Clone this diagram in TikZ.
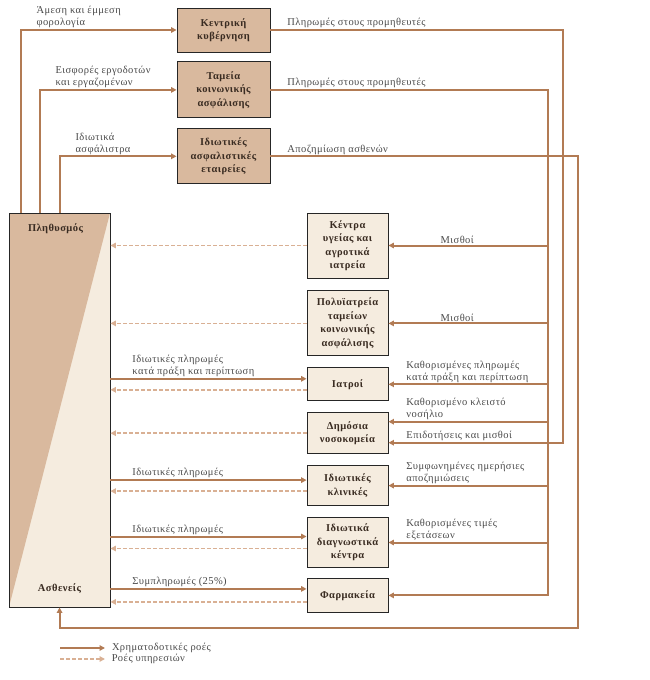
\documentclass[tikz,border=0pt]{standalone}
\usepackage{fontspec}
\setmainfont{Liberation Serif}[LetterSpace=4]
\usetikzlibrary{
  arrows.meta,
  positioning,  % below=of
}
\definecolor{flow}{HTML}{B27B54}
\definecolor{servflow}{HTML}{D9B094}
\definecolor{darkfill}{HTML}{D9B99E}
\definecolor{lightfill}{HTML}{F5ECDF}
\definecolor{boxtext}{HTML}{3A2C22}
\definecolor{lbltext}{HTML}{4A4A4A}
\tikzset{
  font=\fontsize{10.5}{12}\selectfont,
  money/.style={
    draw=flow,
    line width=2pt,
    -{Triangle[length=5.5pt,width=5.5pt]}
  },
  service/.style={
    draw=servflow,
    line width=1.5pt,
    dash pattern=on 4pt off 2pt,
    -{Triangle[length=5.5pt,width=5.5pt]}
  },
  fundbox/.style={
    draw=black!85,
    fill=darkfill,
    line width=0.9pt,
    minimum width=93pt,
    inner sep=1pt,
    align=center,
    text=boxtext,
    font=\bfseries\fontsize{10.5}{13.5}\selectfont
  },
  carebox/.style={
    fundbox,
    fill=lightfill,
    minimum width=81pt
  },
  lbl/.style={
    text=lbltext,
    align=left,
    inner sep=1pt,
    anchor=south west
  }
}

\begin{document}
\begin{tikzpicture}[x=1pt,y=-1pt]
\useasboundingbox (0,0) rectangle (650,680);

% funding bodies
\node[fundbox, minimum height=44pt] (gov) at (223.5,30) {Κεντρική\\κυβέρνηση};
\node[fundbox, minimum height=56pt, below=9pt of gov] (fund) {Ταμεία\\κοινωνικής\\ασφάλισης};
\node[fundbox, minimum height=55pt, below=10pt of fund] (ins) {Ιδιωτικές\\ασφαλιστικές\\εταιρείες};

% population
\node[draw=black!85, line width=0.9pt, fill=lightfill, minimum width=101pt, minimum height=394pt,
  path picture={\fill[darkfill] (path picture bounding box.north west)
    -- (path picture bounding box.north east) -- (path picture bounding box.south west) -- cycle;}]
  (pop) at (59.5,410) {};
\node[font=\bfseries\fontsize{10.5}{12}\selectfont, text=boxtext, below=8pt of pop.north, xshift=-4pt] (popt) {Πληθυσμός};
\node[font=\bfseries\fontsize{10.5}{12}\selectfont, text=boxtext, above=10pt of pop.south] (popb) {Ασθενείς};

% providers
\node[carebox, minimum height=65pt] (kyg) at (347.5,245.5) {Κέντρα\\υγείας και\\αγροτικά\\ιατρεία};
\node[carebox, minimum height=65pt, below=12pt of kyg] (poly) {Πολυϊατρεία\\ταμείων\\κοινωνικής\\ασφάλισης};
\node[carebox, minimum height=33pt, below=11pt of poly] (doc) {Ιατροί};
\node[carebox, minimum height=41pt, below=11pt of doc] (hosp) {Δημόσια\\νοσοκομεία};
\node[carebox, minimum height=40pt, below=11pt of hosp] (clin) {Ιδιωτικές\\κλινικές};
\node[carebox, minimum height=50pt, below=11pt of clin] (diag) {Ιδιωτικά\\διαγνωστικά\\κέντρα};
\node[carebox, minimum height=34pt, below=10pt of diag] (pharm) {Φαρμακεία};

\coordinate (govdrop) at (563,0);
\coordinate (funddrop) at (548,0);
\coordinate (insdrop) at (578,628);
\coordinate (hosplow) at ([yshift=-9.5pt]hosp.east);
\coordinate (hosphigh) at ([yshift=11.5pt]hosp.east);

% population -> funding bodies
\draw[money] ([xshift=12pt]pop.north west) |- node[lbl, pos=0.5, xshift=14pt] {Άμεση και έμμεση\\φορολογία} (gov);
\draw[money] ([xshift=31pt]pop.north west) |- node[lbl, pos=0.5, xshift=14pt] {Εισφορές εργοδοτών\\και εργαζομένων} (fund);
\draw[money] ([xshift=51pt]pop.north west) |- node[lbl, pos=0.5, xshift=14pt] {Ιδιωτικά\\ασφάλιστρα} (ins);

% funding bodies -> providers
\draw[money] (gov) -| node[lbl, pos=0, xshift=15pt] {Πληρωμές στους προμηθευτές} (govdrop |- hosplow) -- (hosplow)
  node[lbl, at end, xshift=16pt] {Επιδοτήσεις και μισθοί};
\draw[money] (fund) -| node[lbl, pos=0, xshift=15pt] {Πληρωμές στους προμηθευτές} (funddrop |- pharm.east) -- (pharm);
\draw[money] (funddrop |- kyg.east) -- node[lbl, anchor=south, xshift=-11pt] {Μισθοί} (kyg);
\draw[money] (funddrop |- poly.east) -- node[lbl, anchor=south, xshift=-11pt] {Μισθοί} (poly);
\draw[money] (funddrop |- doc.east) -- (doc) node[lbl, at end, xshift=16pt] {Καθορισμένες πληρωμές\\κατά πράξη και περίπτωση};
\draw[money] (funddrop |- hosphigh) -- (hosphigh) node[lbl, at end, xshift=16pt] {Καθορισμένο κλειστό\\νοσήλιο};
\draw[money] (funddrop |- clin.east) -- (clin) node[lbl, at end, xshift=16pt] {Συμφωνημένες ημερήσιες\\αποζημιώσεις};
\draw[money] (funddrop |- diag.east) -- (diag) node[lbl, at end, xshift=16pt] {Καθορισμένες τιμές\\εξετάσεων};

% insurers -> patients
\draw[money] (ins) -| node[lbl, pos=0, xshift=15pt] {Αποζημίωση ασθενών} (insdrop) -| ([xshift=51pt]pop.south west);

% patients <-> providers
\foreach \n/\d in {doc/5.5, clin/5.5, diag/6, pharm/6.5}{
  \coordinate (\n-up) at ([yshift=\d pt]\n.west);
  \coordinate (\n-dn) at ([yshift=-\d pt]\n.west);
  \draw[service] (\n-dn) -- (\n-dn -| pop.east);
}
\draw[money] (doc-up -| pop.east) -- node[lbl, at start, xshift=20pt] {Ιδιωτικές πληρωμές\\κατά πράξη και περίπτωση} (doc-up);
\draw[money] (clin-up -| pop.east) -- node[lbl, at start, xshift=20pt] {Ιδιωτικές πληρωμές} (clin-up);
\draw[money] (diag-up -| pop.east) -- node[lbl, at start, xshift=20pt] {Ιδιωτικές πληρωμές} (diag-up);
\draw[money] (pharm-up -| pop.east) -- node[lbl, at start, xshift=20pt] {Συμπληρωμές (25\%)} (pharm-up);
\foreach \n in {kyg,poly,hosp}
  \draw[service] (\n) -- (\n -| pop.east);

% legend
\coordinate (lega) at (60,648);
\coordinate (legb) at (105,648);
\coordinate (legc) at (60,659);
\coordinate (legd) at (105,659);
\draw[money] (lega) -- (legb) node[lbl, anchor=west, xshift=5pt] {Χρηματοδοτικές ροές};
\draw[service] (legc) -- (legd) node[lbl, anchor=west, xshift=5pt] {Ροές υπηρεσιών};
\end{tikzpicture}
\end{document}
